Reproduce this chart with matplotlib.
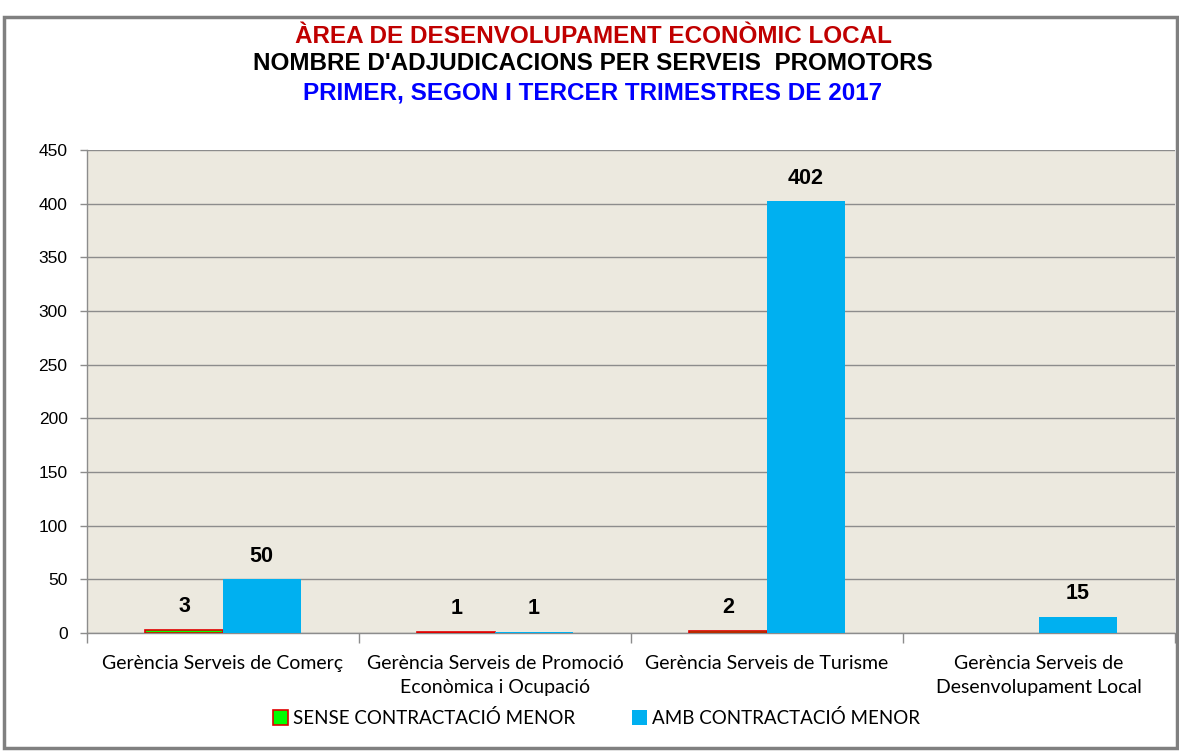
import matplotlib
matplotlib.use("Agg")
import matplotlib.pyplot as plt
from matplotlib.patches import Rectangle
import numpy as np

categories = ["Gerència Serveis de Comerç",
              "Gerència Serveis de Promoció\nEconòmica i Ocupació",
              "Gerència Serveis de Turisme",
              "Gerència Serveis de\nDesenvolupament Local"]
sense = [3, 1, 2, 0]
amb = [50, 1, 402, 15]
sense_labels = ["3", "1", "2", None]
amb_labels = ["50", "1", "402", "15"]
series_names = ["SENSE CONTRACTACIÓ MENOR", "AMB CONTRACTACIÓ MENOR"]
yticks = list(range(0, 451, 50))

title_font = ["Liberation Sans", "DejaVu Sans"]
label_font = ["Lato", "DejaVu Sans"]

fig = plt.figure(figsize=(11.79, 7.51), dpi=100)
fig.patch.set_facecolor("white")
fig.patches.append(Rectangle((0.003, 0.004), 0.995, 0.974, transform=fig.transFigure,
                             fill=False, edgecolor="#808080", linewidth=2.5))

ax = fig.add_axes([0.0738, 0.1571, 0.9228, 0.6432])
ax.set_facecolor("#ECE9DF")

x = np.arange(len(categories))
w = 0.285
b1 = ax.bar(x - w / 2, sense, w, color="#00FF00", edgecolor="#E00000", linewidth=1.2, zorder=3)
for bar, v in zip(b1, sense):
    if v == 0:
        bar.set_linewidth(0)
b2 = ax.bar(x + w / 2, amb, w, color="#00B0F0", edgecolor="none", zorder=3)

for xs, vals, labs in ((x - w / 2, sense, sense_labels), (x + w / 2, amb, amb_labels)):
    for xi, v, lab in zip(xs, vals, labs):
        if lab:
            ax.annotate(lab, (xi, v), xytext=(0, 23), textcoords="offset pixels",
                        ha="center", va="center", fontsize=15.5, fontweight="bold",
                        family=title_font)

ax.set_xlim(-0.5, len(categories) - 0.5)
ax.set_ylim(0, 450)
ax.set_yticks(yticks)
ax.set_yticklabels([str(t) for t in yticks], fontsize=12.5, family=title_font)
ax.yaxis.grid(True, color="#8C8C8C", linewidth=1.0, zorder=0)
ax.set_axisbelow(True)

ax.set_xticks(x)
ax.set_xticklabels(categories, fontsize=14, family=label_font, linespacing=1.45)
ax.tick_params(axis="x", which="major", length=0, pad=16)
ax.set_xticks(np.arange(-0.5, len(categories)), minor=True)
ax.tick_params(axis="x", which="minor", length=7, color="#8C8C8C", width=1)
ax.tick_params(axis="y", length=5, color="#8C8C8C", width=1, pad=9)

for s in ["top", "right"]:
    ax.spines[s].set_visible(False)
for s in ["left", "bottom"]:
    ax.spines[s].set_color("#8C8C8C")
    ax.spines[s].set_linewidth(1)

fig.text(0.503, 0.951, "ÀREA DE DESENVOLUPAMENT ECONÒMIC LOCAL", ha="center", va="center",
         color="#C00000", fontsize=17.5, fontweight="bold", family=title_font)
fig.text(0.503, 0.915, "NOMBRE D'ADJUDICACIONS PER SERVEIS  PROMOTORS", ha="center", va="center",
         color="black", fontsize=17.5, fontweight="bold", family=title_font)
fig.text(0.503, 0.876, "PRIMER, SEGON I TERCER TRIMESTRES DE 2017", ha="center", va="center",
         color="#0000FF", fontsize=17.5, fontweight="bold", family=title_font)

leg = fig.legend([b1, b2], series_names, loc="center", bbox_to_anchor=(0.506, 0.044),
                 ncol=2, frameon=False, prop={"family": label_font, "size": 13.5},
                 handlelength=0.8, handleheight=0.8, handletextpad=0.3, columnspacing=3.0)

fig.savefig("out.png", dpi=100)
